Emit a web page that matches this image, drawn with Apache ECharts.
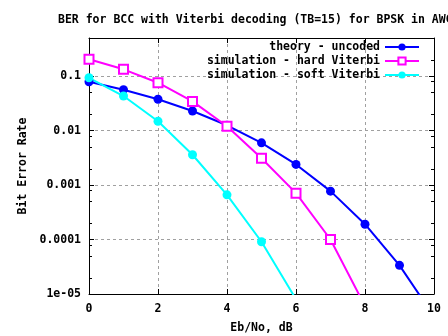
<!DOCTYPE html>
<html>
<head>
<meta charset="utf-8">
<script src="https://cdn.jsdelivr.net/npm/echarts@6/dist/echarts.min.js"></script>
<style>html,body{margin:0;padding:0;background:#fff}#c{width:448px;height:336px}</style>
</head>
<body>
<div id="c"></div>
<script>
var ebno = [0, 1, 2, 3, 4, 5, 6, 7, 8, 9, 10];
var theory = [0.0786, 0.0563, 0.0375, 0.0229, 0.0125, 0.00595, 0.00239, 0.000773, 0.000191, 0.0000336, 0.00000387];
var hardViterbi = [0.203, 0.133, 0.0755, 0.0343, 0.012, 0.0031, 0.00071, 0.0001, 0.000006];
var softViterbi = [0.093, 0.043, 0.0148, 0.0036, 0.00066, 0.000091, 0.000008];
var seriesNames = ['theory - uncoded', 'simulation - hard Viterbi', 'simulation - soft Viterbi'];
var yTickLabels = {'-1': '0.1', '-2': '0.01', '-3': '0.001', '-4': '0.0001', '-5': '1e-05'};
var minorTickValues = [2e-5, 5e-5, 8e-5, 2e-4, 5e-4, 8e-4, 2e-3, 5e-3, 8e-3, 2e-2, 5e-2, 8e-2, 2e-1];

var FONT = 'DejaVu Sans Mono';
function pairs(ys) { return ys.map(function (y, i) { return [ebno[i], y]; }); }

var chart = echarts.init(document.getElementById('c'), null, {renderer: 'canvas'});
var gridLine = {show: true, lineStyle: {color: '#a0a0a0', type: [3, 3], width: 1}};
var txt = {fontFamily: FONT, fontWeight: 'bold', fontSize: 11.5, color: '#000'};
chart.setOption({
  animation: false,
  backgroundColor: '#fff',
  title: {
    text: 'BER for BCC with Viterbi decoding (TB=15) for BPSK in AWGN',
    left: 58, top: 14, padding: 0,
    textStyle: {fontFamily: FONT, fontWeight: 'bold', fontSize: 11.5, color: '#000'}
  },
  legend: {
    orient: 'vertical', right: 28, top: 41, align: 'right', padding: 0,
    itemWidth: 34, itemHeight: 9, itemGap: 2,
    textStyle: {fontFamily: FONT, fontWeight: 'bold', fontSize: 11.5, lineHeight: 12, color: '#000'},
    data: seriesNames
  },
  grid: {left: 89, right: 14, top: 38, bottom: 42, show: false, outerBoundsMode: 'none', containLabel: false},
  xAxis: [{
    type: 'value', min: 0, max: 10, interval: 2,
    name: 'Eb/No, dB', nameLocation: 'middle', nameGap: 28,
    nameTextStyle: txt,
    axisLine: {show: true, onZero: false, lineStyle: {color: '#000', width: 1}},
    axisTick: {show: true, inside: true, length: 5, lineStyle: {color: '#000'}},
    axisLabel: Object.assign({margin: 9}, txt),
    splitLine: gridLine
  }, {
    type: 'value', min: 0, max: 10, interval: 2, position: 'top',
    axisLine: {show: true, onZero: false, lineStyle: {color: '#000', width: 1}},
    axisTick: {show: true, inside: true, length: 5, lineStyle: {color: '#000'}},
    axisLabel: {show: false}, splitLine: {show: false}
  }],
  yAxis: [{
    type: 'log', logBase: 10, min: 1e-5, max: 0.5,
    name: 'Bit Error Rate', nameLocation: 'middle', nameGap: 50,
    nameTextStyle: txt,
    axisLine: {show: true, onZero: false, lineStyle: {color: '#000', width: 1}},
    axisTick: {show: true, inside: true, length: 5, lineStyle: {color: '#000'}},
    axisLabel: Object.assign({margin: 8, showMaxLabel: false, formatter: function (v) {
      var e = Math.round(Math.log10(v));
      if (Math.abs(Math.log10(v) - e) > 1e-6) return '';
      return yTickLabels[String(e)] || '';
    }}, txt),
    splitLine: gridLine
  }, {
    type: 'log', logBase: 10, min: 1e-5, max: 0.5, position: 'right',
    axisLine: {show: true, onZero: false, lineStyle: {color: '#000', width: 1}},
    axisTick: {show: true, inside: true, length: 5, lineStyle: {color: '#000'}},
    axisLabel: {show: false}, splitLine: {show: false}
  }],
  series: [
    {
      type: 'custom', silent: true, xAxisIndex: 0, yAxisIndex: 0, clip: true, z: 1,
      data: minorTickValues.map(function (v) { return [0, v]; }),
      renderItem: function (params, api) {
        var p0 = api.coord([0, api.value(1)]);
        var p1 = api.coord([10, api.value(1)]);
        var st = {stroke: '#000', lineWidth: 1};
        return {type: 'group', children: [
          {type: 'line', shape: {x1: p0[0], y1: Math.round(p0[1]) + 0.5, x2: p0[0] + 3, y2: Math.round(p0[1]) + 0.5}, style: st},
          {type: 'line', shape: {x1: p1[0] - 3, y1: Math.round(p1[1]) + 0.5, x2: p1[0], y2: Math.round(p1[1]) + 0.5}, style: st}
        ]};
      }
    },
    {
      name: seriesNames[0], type: 'line', data: pairs(theory),
      symbol: 'circle', symbolSize: 9, color: '#0000ff',
      lineStyle: {width: 2, color: '#0000ff'}, itemStyle: {color: '#0000ff'}
    },
    {
      name: seriesNames[1], type: 'line', data: pairs(hardViterbi),
      symbol: 'emptyRect', symbolSize: 9, color: '#ff00ff',
      lineStyle: {width: 2, color: '#ff00ff'}, itemStyle: {color: '#ff00ff', borderColor: '#ff00ff', borderWidth: 2}
    },
    {
      name: seriesNames[2], type: 'line', data: pairs(softViterbi),
      symbol: 'circle', symbolSize: 9, color: '#00ffff',
      lineStyle: {width: 2, color: '#00ffff'}, itemStyle: {color: '#00ffff'}
    }
  ]
});
</script>
</body>
</html>
